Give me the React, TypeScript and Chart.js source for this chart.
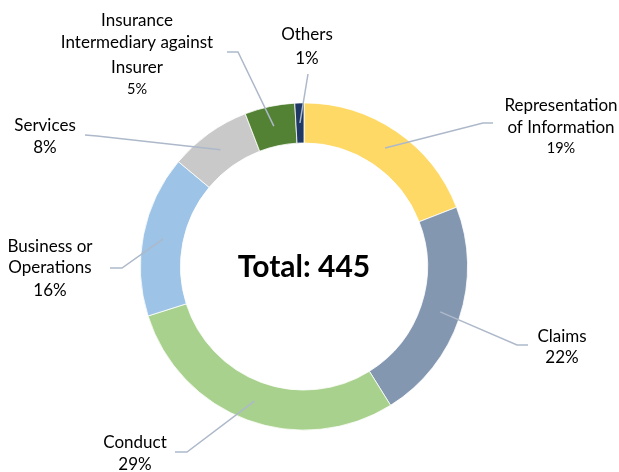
import React, { useEffect, useRef } from "react";
import { Chart, registerables } from "chart.js";

Chart.register(...registerables);

const categories = [
  "Representation of Information",
  "Claims",
  "Conduct",
  "Business or Operations",
  "Services",
  "Insurance Intermediary against Insurer",
  "Others",
];
const labelLines = [
  ["Representation", "of Information"],
  ["Claims"],
  ["Conduct"],
  ["Business or", "Operations"],
  ["Services"],
  ["Insurance", "Intermediary against", "Insurer"],
  ["Others"],
];
const counts = [85, 98, 129, 71, 36, 22, 4];
const colors = ["#FFD966", "#8497B0", "#A9D18E", "#9DC3E6", "#C9C9C9", "#548235", "#1F3864"];
const totalLabel = "Total: ";

// label layout, offsets relative to the doughnut centre
const labelLayout = [
  { elbow: [179, -143.5], end: [189, -143.5], tx: 257, ys: [-160.5, -138.5, -118.5], pctSmall: true },
  { elbow: [213, 78.5], end: [224, 78.5], tx: 258, ys: [70.5, 91.5], pctSmall: false },
  { elbow: [-117, 185.5], end: [-129, 185.5], tx: -169, ys: [176.5, 198.5], pctSmall: false },
  { elbow: [-182, 1.5], end: [-194, 1.5], tx: -254, ys: [-19.5, 1.5, 24.5], pctSmall: false },
  { elbow: [-207, -130.5], end: [-219, -131.5], tx: -259, ys: [-140.5, -118.5], pctSmall: false },
  { elbow: [-66, -214.5], end: [-77, -214.5], tx: -167, ys: [-245.5, -223.5, -198.5, -177.5], pctSmall: true },
  { elbow: [4, -192.5], end: [4, -192.5], tx: 3, ys: [-231.5, -207.5], pctSmall: false },
];

const FONT = "Lato, 'Open Sans', sans-serif";

const labelPlugin = {
  id: "leaderLabels",
  afterDraw(chart: any) {
    const ctx = chart.ctx;
    const meta = chart.getDatasetMeta(0);
    const total = counts.reduce((a, b) => a + b, 0);
    ctx.save();
    meta.data.forEach((arc: any, i: number) => {
      const p = arc.getProps(["x", "y", "startAngle", "endAngle", "innerRadius", "outerRadius"], true);
      const mid = (p.startAngle + p.endAngle) / 2;
      const r = (p.innerRadius + p.outerRadius) / 2;
      const sx = p.x + Math.cos(mid) * r;
      const sy = p.y + Math.sin(mid) * r;
      const L = labelLayout[i];
      ctx.strokeStyle = "#ADB9CA";
      ctx.lineWidth = 1.5;
      ctx.beginPath();
      ctx.moveTo(sx, sy);
      ctx.lineTo(p.x + L.elbow[0], p.y + L.elbow[1]);
      ctx.lineTo(p.x + L.end[0], p.y + L.end[1]);
      ctx.stroke();
      const pct = Math.round((counts[i] / total) * 100) + "%";
      const lines = [...labelLines[i], pct];
      ctx.fillStyle = "#000";
      ctx.textAlign = "center";
      ctx.textBaseline = "middle";
      lines.forEach((t, j) => {
        const isPct = j === lines.length - 1;
        ctx.font = `${isPct && L.pctSmall ? 14.5 : 17}px ${FONT}`;
        ctx.fillText(t, p.x + L.tx, p.y + L.ys[j]);
      });
      if (i === 0) {
        ctx.font = `bold 30px ${FONT}`;
        ctx.fillText(totalLabel + total, p.x, p.y + 1);
      }
    });
    ctx.restore();
  },
};

export default function App() {
  const ref = useRef<HTMLCanvasElement>(null);
  useEffect(() => {
    document.body.style.margin = "0";
    const chart = new Chart(ref.current!, {
      type: "doughnut",
      data: {
        labels: categories,
        datasets: [
          {
            data: counts,
            backgroundColor: colors,
            borderColor: "#ffffff",
            borderWidth: 0.8,
          },
        ],
      },
      options: {
        animation: false,
        responsive: false,
        cutout: "75.5%",
        layout: { padding: { top: 102.5, bottom: 41.5, left: 140, right: 151 } },
        plugins: { legend: { display: false }, tooltip: { enabled: false } },
      },
      plugins: [labelPlugin],
    });
    return () => chart.destroy();
  }, []);
  return (
    <div style={{ width: 619, height: 472, background: "#fff" }}>
      <canvas ref={ref} width={619} height={472} />
    </div>
  );
}
